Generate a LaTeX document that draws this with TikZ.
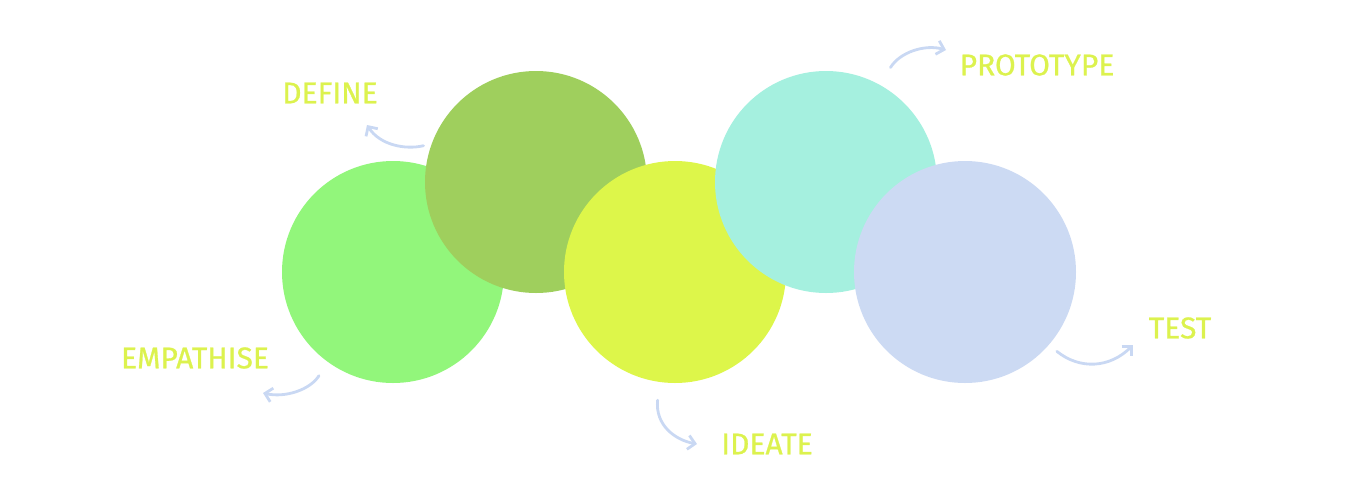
\documentclass[tikz,border=0pt]{standalone}
\usepackage{fontspec}
\setmainfont{Fira Sans}[FakeBold=0.8]
\usetikzlibrary{arrows.meta}
\definecolor{empcol}{HTML}{92F67B}
\definecolor{defcol}{HTML}{9FCF5D}
\definecolor{idecol}{HTML}{DDF64A}
\definecolor{procol}{HTML}{A5F0DF}
\definecolor{tescol}{HTML}{CCDAF3}
\definecolor{tagcol}{HTML}{DCF24E}
\definecolor{arrcol}{HTML}{C9D8F3}
\begin{document}
\begin{tikzpicture}[x=0.5pt, y=-0.5pt,
	phase/.style={circle, minimum size=111pt, inner sep=0pt},
	tag/.style={text=tagcol, font=\fontsize{15}{15}\selectfont, inner sep=0pt},
	arr/.style={arrcol, line width=1.4pt, line cap=round, -{Straight Barb[length=3.5pt, width=7pt]}}]
	\useasboundingbox (0,0) rectangle (1366,494);
	\foreach \n/\x/\y/\c in {emp/393/272/empcol, def/536/182/defcol, ide/675/272/idecol, pro/826/182/procol, tes/965/272/tescol}{
		\node[phase, fill=\c] (\n) at (\x,\y) {};
	}
	\node[tag] (empT) at (195,358) {EMPATHISE};
	\node[tag] (defT) at (330,93) {DEFINE};
	\node[tag] (ideT) at (767,444) {IDEATE};
	\node[tag] (proT) at (1037,65) {PROTOTYPE};
	\node[tag] (tesT) at (1180,328) {TEST};
	\coordinate (empE) at (263,393);
	\coordinate (defE) at (367,125);
	\coordinate (ideE) at (697,444);
	\coordinate (proE) at (946,50);
	\coordinate (tesE) at (1133,345);
	\draw[arr, shorten <=8pt] (emp.234) .. controls (310,390) and (285,398) .. (empE);
	\draw[arr, shorten <=4pt] (def.160) .. controls (405,150) and (380,145) .. (defE);
	\draw[arr, shorten <=9pt] (ide.262) .. controls (655,425) and (675,440) .. (ideE);
	\draw[arr, shorten <=10pt] (pro.61) .. controls (900,52) and (925,44) .. (proE);
	\draw[arr, shorten <=5pt] (tes.319) .. controls (1080,370) and (1110,368) .. (tesE);
\end{tikzpicture}
\end{document}
